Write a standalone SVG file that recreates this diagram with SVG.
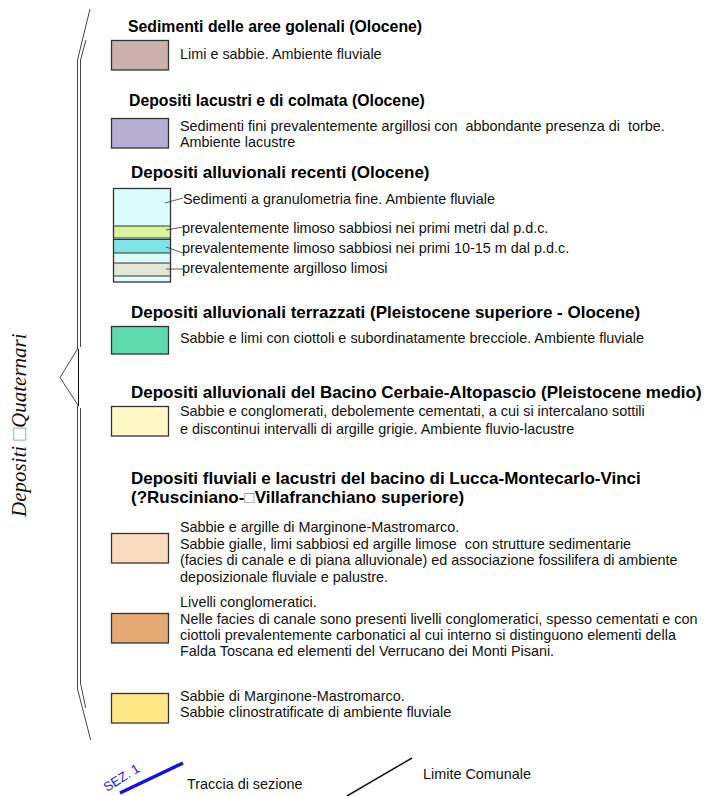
<svg xmlns="http://www.w3.org/2000/svg" width="709" height="796" viewBox="0 0 709 796">
<style>
.t{font-family:"Liberation Sans",Arial,sans-serif;font-weight:bold;font-size:17px;fill:#000}
.t2{font-size:15.8px}
.b{font-family:"Liberation Sans",Arial,sans-serif;font-size:14.4px;fill:#111;white-space:pre}
.box{stroke:#333;stroke-width:1.3}
.br{fill:none;stroke:#444;stroke-width:1}
.ld{fill:none;stroke:#333;stroke-width:0.8}
.lay{stroke:#333;stroke-width:1}
</style>
<rect width="709" height="796" fill="#fff"/>
<g id="bracket">
<polyline class="br" points="90,9 77.5,60 77.5,349 60,377.5 78.5,406 77.5,406 77.5,689 90.7,740"/>
<polyline class="br" points="86,40 80.5,60 80.5,347"/>
<line x1="78.5" y1="349" x2="78.5" y2="406" stroke="#111" stroke-width="1"/>
<polyline class="br" points="80.5,408 80.5,683 85.7,708"/>
<text x="26" y="517" transform="rotate(-90 26 517)" font-family="'Liberation Serif','Times New Roman',serif" font-style="italic" font-size="21" fill="#111">Depositi <tspan fill="#999">□</tspan>Quaternari</text>
</g>
<g id="n1">
<text class="t t2" x="128" y="32">Sedimenti delle aree golenali (Olocene)</text>
<rect class="box" x="111.5" y="40.5" width="57" height="29.5" fill="#cbb0ae"/>
<text class="b" x="180" y="59">Limi e sabbie. Ambiente fluviale</text>
</g>
<g id="n2">
<text class="t t2" x="129" y="106">Depositi lacustri e di colmata (Olocene)</text>
<rect class="box" x="111.5" y="118.5" width="57" height="29.5" fill="#b7aed4"/>
<text class="b" x="180" y="131">Sedimenti fini prevalentemente argillosi con  abbondante presenza di  torbe.</text>
<text class="b" x="180" y="147">Ambiente lacustre</text>
</g>
<g id="n3">
<text class="t" x="131" y="178">Depositi alluvionali recenti (Olocene)</text>
<rect x="113.5" y="188.5" width="57" height="93.5" fill="#dcfcfc"/>
<rect class="lay" x="113.5" y="226" width="57" height="12" fill="#d8f59c"/>
<rect class="lay" x="113.5" y="239.5" width="57" height="13.5" fill="#80e4e6"/>
<rect class="lay" x="113.5" y="263" width="57" height="13" fill="#e4e6d8"/>
<rect x="113.5" y="188.5" width="57" height="93.5" fill="none" class="box"/>
<polyline class="ld" points="165,203 183,198"/>
<polyline class="ld" points="166,230 183,227"/>
<polyline class="ld" points="166,247 183,253"/>
<polyline class="ld" points="166,269 183,269"/>
<text class="b" x="183" y="204">Sedimenti a granulometria fine. Ambiente fluviale</text>
<text class="b" x="182" y="233">prevalentemente limoso sabbiosi nei primi metri dal p.d.c.</text>
<text class="b" x="182" y="253">prevalentemente limoso sabbiosi nei primi 10-15 m dal p.d.c.</text>
<text class="b" x="182" y="273">prevalentemente argilloso limosi</text>
</g>
<g id="n4">
<text class="t" x="131" y="318">Depositi alluvionali terrazzati (Pleistocene superiore - Olocene)</text>
<rect class="box" x="111.5" y="326.5" width="57" height="27.5" fill="#5fd9ae"/>
<text class="b" x="180" y="343">Sabbie e limi con ciottoli e subordinatamente brecciole. Ambiente fluviale</text>
</g>
<g id="n5">
<text class="t" x="131" y="398">Depositi alluvionali del Bacino Cerbaie-Altopascio (Pleistocene medio)</text>
<rect class="box" x="111.5" y="406.5" width="57" height="29.5" fill="#fff9c7"/>
<text class="b" x="180" y="416">Sabbie e conglomerati, debolemente cementati, a cui si intercalano sottili</text>
<text class="b" x="180" y="434">e discontinui intervalli di argille grigie. Ambiente fluvio-lacustre</text>
</g>
<g id="n6">
<text class="t" x="131" y="484">Depositi fluviali e lacustri del bacino di Lucca-Montecarlo-Vinci</text>
<text class="t" x="131" y="503">(?Rusciniano-<tspan font-weight="normal" fill="#888">□</tspan>Villafranchiano superiore)</text>
</g>
<g id="n7">
<rect class="box" x="111.5" y="533.5" width="57" height="29.5" fill="#fbdbc0"/>
<text class="b" x="180" y="532">Sabbie e argille di Marginone-Mastromarco.</text>
<text class="b" x="180" y="549">Sabbie gialle, limi sabbiosi ed argille limose  con strutture sedimentarie</text>
<text class="b" x="180" y="565">(facies di canale e di piana alluvionale) ed associazione fossilifera di ambiente</text>
<text class="b" x="180" y="582">deposizionale fluviale e palustre.</text>
</g>
<g id="n8">
<rect class="box" x="111.5" y="613.5" width="57" height="29.5" fill="#e5aa73"/>
<text class="b" x="180" y="607">Livelli conglomeratici.</text>
<text class="b" x="180" y="624">Nelle facies di canale sono presenti livelli conglomeratici, spesso cementati e con</text>
<text class="b" x="180" y="640">ciottoli prevalentemente carbonatici al cui interno si distinguono elementi della</text>
<text class="b" x="180" y="656">Falda Toscana ed elementi del Verrucano dei Monti Pisani.</text>
</g>
<g id="n9">
<rect class="box" x="111.5" y="693.5" width="57" height="29.5" fill="#fee784"/>
<text class="b" x="180" y="701">Sabbie di Marginone-Mastromarco.</text>
<text class="b" x="180" y="717">Sabbie clinostratificate di ambiente fluviale</text>
</g>
<g id="legend-sez">
<line x1="120" y1="793" x2="183" y2="763" stroke="#1010f0" stroke-width="3.5"/>
<text x="107" y="792" transform="rotate(-32 107 792)" font-family="'Liberation Sans',Arial,sans-serif" font-size="13" fill="#1010f0">SEZ. 1</text>
<text class="b" x="187" y="789">Traccia di sezione</text>
</g>
<g id="legend-lim">
<line x1="347" y1="796" x2="412" y2="758" stroke="#111" stroke-width="1.5"/>
<text class="b" x="423" y="779">Limite Comunale</text>
</g>
</svg>
